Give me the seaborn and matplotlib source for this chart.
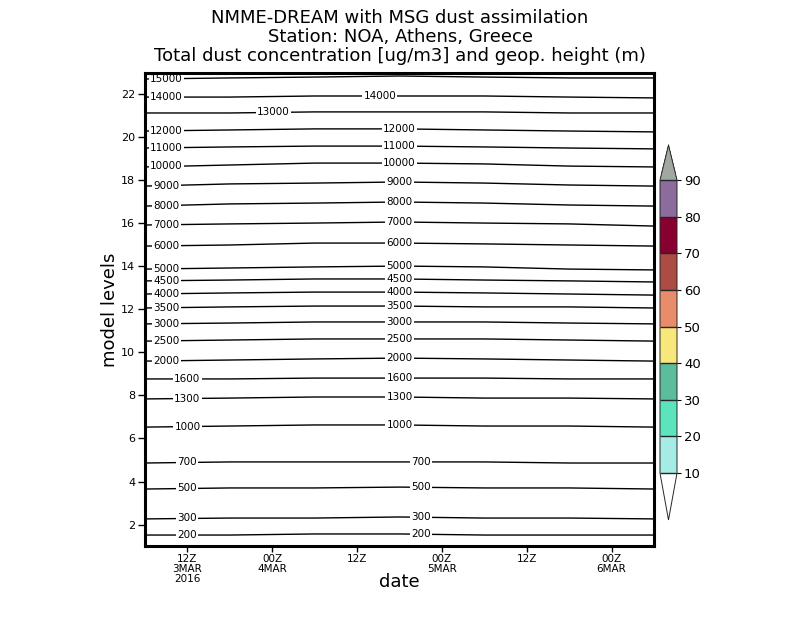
import numpy as np
import pandas as pd
import matplotlib
matplotlib.use('Agg')
import matplotlib.pyplot as plt
import matplotlib.colors as mcolors
import matplotlib.cm as cm
import seaborn as sns

# time axis: hours since 00Z 3 MAR 2016
hours = [6, 18, 30, 42, 54, 66, 78]
tick_hours = [12, 24, 36, 48, 60, 72]
tick_labels = ['12Z\n3MAR\n2016', '00Z\n4MAR', '12Z', '00Z\n5MAR', '12Z', '00Z\n6MAR']

# geopotential height contours (m) and their model-level position at each time
heights = [15000, 14000, 13000, 12000, 11000, 10000, 9000, 8000, 7000, 6000,
           5000, 4500, 4000, 3500, 3000, 2500, 2000, 1600, 1300, 1000, 700, 500, 300, 200]
height_levels = [
    [22.72, 22.77, 22.81, 22.86, 22.81, 22.77, 22.77],
    [21.88, 21.88, 21.93, 21.93, 21.93, 21.88, 21.84],
    [21.14, 21.14, 21.19, 21.19, 21.19, 21.14, 21.14],
    [20.30, 20.35, 20.40, 20.40, 20.35, 20.30, 20.26],
    [19.51, 19.56, 19.60, 19.60, 19.56, 19.51, 19.47],
    [18.63, 18.72, 18.81, 18.81, 18.77, 18.67, 18.63],
    [17.74, 17.84, 17.88, 17.93, 17.88, 17.79, 17.74],
    [16.81, 16.91, 16.95, 17.00, 16.95, 16.86, 16.81],
    [15.93, 15.98, 16.02, 16.07, 16.02, 15.98, 15.88],
    [14.95, 15.00, 15.09, 15.09, 15.05, 15.00, 14.95],
    [13.88, 13.93, 13.98, 14.02, 13.98, 13.88, 13.84],
    [13.33, 13.37, 13.42, 13.42, 13.37, 13.33, 13.28],
    [12.72, 12.77, 12.81, 12.81, 12.77, 12.72, 12.67],
    [12.07, 12.12, 12.16, 12.16, 12.12, 12.12, 12.07],
    [11.33, 11.37, 11.42, 11.42, 11.42, 11.37, 11.33],
    [10.53, 10.58, 10.63, 10.63, 10.63, 10.58, 10.53],
    [9.60, 9.65, 9.70, 9.74, 9.70, 9.65, 9.60],
    [8.77, 8.77, 8.81, 8.81, 8.81, 8.77, 8.77],
    [7.84, 7.88, 7.93, 7.93, 7.88, 7.88, 7.84],
    [6.53, 6.58, 6.63, 6.63, 6.58, 6.58, 6.53],
    [4.86, 4.91, 4.91, 4.91, 4.91, 4.86, 4.86],
    [3.65, 3.70, 3.70, 3.74, 3.70, 3.70, 3.65],
    [2.26, 2.30, 2.30, 2.35, 2.30, 2.30, 2.26],
    [1.51, 1.51, 1.56, 1.56, 1.51, 1.51, 1.51],
]

# dust concentration colour scale (ug/m3)
dust_bounds = [10, 20, 30, 40, 50, 60, 70, 80, 90]
dust_colors = ['#a4ece4', '#5ce4bc', '#5cbc9c', '#f8e87c', '#e88c6c',
               '#ac4c44', '#880030', '#8c6c9c']
dust_over = '#a0a8a0'

sns.set_style('white')
plt.rcParams['font.family'] = ['DejaVu Sans']
plt.rcParams.update({'text.color': 'black', 'axes.labelcolor': 'black',
                     'xtick.color': 'black', 'ytick.color': 'black'})

fig = plt.figure(figsize=(8, 6.18), dpi=100)
ax = fig.add_axes([0.18125, 0.1165, 0.63625, 0.7654])

rows = []
for h, levs in zip(heights, height_levels):
    for t, lv in zip(hours, levs):
        rows.append({'hour': t, 'level': lv, 'height': h})
df = pd.DataFrame(rows)

sns.lineplot(data=df, x='hour', y='level', hue='height', units='height',
             estimator=None, palette={h: 'black' for h in heights},
             linewidth=1.0, legend=False, ax=ax)

# contour labels (GrADS style, line broken under the label)
for h, levs in zip(heights, height_levels):
    if h == 15000:
        spots = [9]
    elif h == 13000:
        spots = [24.2]
    elif h >= 2000:
        spots = [9, 39.2 if h == 14000 else 42]
    else:
        spots = [12, 42 if h >= 1000 else 45]
    for t in spots:
        ax.text(t, np.interp(t, hours, levs), str(h), fontsize=7.5,
                ha='center', va='center', zorder=2,
                bbox=dict(boxstyle='square,pad=0.12', fc='white', ec='none'))

ax.set_xlim(6, 78)
ax.set_ylim(1, 23)
ax.set_xticks(tick_hours)
ax.set_xticklabels(tick_labels, fontsize=7.5, linespacing=0.95)
ax.set_yticks(range(2, 23, 2))
ax.tick_params(axis='y', labelsize=8, length=5, width=1, direction='out', left=True, pad=2)
ax.tick_params(axis='x', length=4, width=1, direction='out', bottom=True, pad=2)
for sp in ax.spines.values():
    sp.set_linewidth(2.2)
    sp.set_color('black')
    sp.set_zorder(5)

ax.set_xlabel('date', fontsize=13)
ax.set_ylabel('model levels', fontsize=13)
ax.xaxis.set_label_coords(0.5, -0.058)
ax.yaxis.set_label_coords(-0.052, 0.5)

fig.text(0.5, 0.985, 'NMME-DREAM with MSG dust assimilation\n'
         'Station: NOA, Athens, Greece\n'
         'Total dust concentration [ug/m3] and geop. height (m)',
         ha='center', va='top', fontsize=13, linespacing=1.05)

# colour bar for dust concentration
cmap = mcolors.ListedColormap(dust_colors)
cmap.set_over(dust_over)
cmap.set_under('white')
norm = mcolors.BoundaryNorm(dust_bounds, cmap.N)
cax = fig.add_axes([0.825, 0.1586, 0.02125, 0.6068])
cb = fig.colorbar(cm.ScalarMappable(norm=norm, cmap=cmap), cax=cax,
                  extend='both', extendfrac=[0.16, 0.12], drawedges=True,
                  ticks=dust_bounds)
cb.outline.set_linewidth(0.7)
cb.dividers.set_linewidth(1.0)
cb.ax.tick_params(labelsize=9.5, length=3, width=0.8, pad=2)

fig.savefig('out.png', dpi=100)
